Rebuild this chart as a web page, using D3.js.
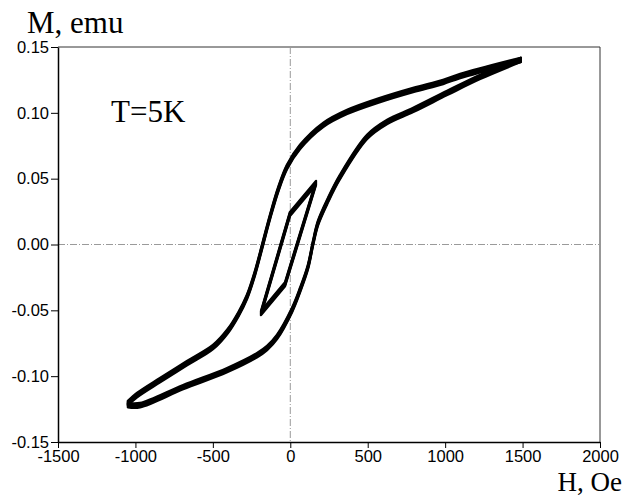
<!DOCTYPE html>
<html>
<head>
<meta charset="utf-8">
<script src="https://cdn.jsdelivr.net/npm/d3@7"></script>
<style>
  html, body { margin: 0; padding: 0; background: #fff; }
  svg { display: block; }
</style>
</head>
<body>
<svg id="chart" width="628" height="497"></svg>
<script>
// Hysteresis loop M(H) at T = 5 K

// Outer loop, descending field branch (from +H max to -H max)
const descH = [1488, 1097, 987, 793, 580, 367, 212, 63, -21, -79, -131, -176, -228, -280, -335, -405, -499, -667, -841, -990, -1048];
const descM = [0.1402, 0.1280, 0.1235, 0.1174, 0.1098, 0.1007, 0.0908, 0.0741, 0.0589, 0.0414, 0.0209, 0.0011, -0.0217, -0.0399, -0.0530, -0.0660, -0.0779, -0.0901, -0.1030, -0.1144, -0.1204];

// Outer loop, ascending field branch (from -H max back to +H max)
const ascH = [-1048, -970, -692, -408, -214, -150, -86, 11, 63, 114, 147, 179, 244, 321, 496, 626, 794, 1013, 1226, 1488];
const ascM = [-0.1220, -0.1220, -0.1083, -0.0954, -0.0840, -0.0786, -0.0703, -0.0498, -0.0346, -0.0171, 0.0011, 0.0163, 0.0338, 0.0513, 0.0817, 0.0931, 0.1022, 0.1151, 0.1273, 0.1402];

// Minor loop
const minorH = [166, -2, -189, -34];
const minorM = [0.0467, 0.0232, -0.0521, -0.0302];

// Axis ticks
const xTicks = [-1500, -1000, -500, 0, 500, 1000, 1500, 2000];
const yTicks = [0.15, 0.10, 0.05, 0.00, -0.05, -0.10, -0.15];

(function draw() {
  const svg = d3.select("#chart");
  const plotLeft = 58, plotRight = 600, plotTop = 47, plotBottom = 442;

  const x = d3.scaleLinear().domain([-1500, 2000]).range([plotLeft, plotRight]);
  const y = d3.scaleLinear().domain([-0.15, 0.15]).range([plotBottom, plotTop]);

  // Frame
  svg.append("line").attr("x1", plotLeft).attr("x2", plotRight).attr("y1", plotTop).attr("y2", plotTop)
    .attr("stroke", "#333").attr("stroke-width", 1);
  svg.append("line").attr("x1", plotRight).attr("x2", plotRight).attr("y1", plotTop).attr("y2", plotBottom)
    .attr("stroke", "#333").attr("stroke-width", 1);

  // Zero reference lines
  const zeroStyle = s => s.attr("stroke", "#9a9a9a").attr("stroke-width", 1).attr("stroke-dasharray", "7,2,1,2");
  zeroStyle(svg.append("line").attr("x1", plotLeft).attr("x2", plotRight).attr("y1", y(0)).attr("y2", y(0)));
  zeroStyle(svg.append("line").attr("x1", x(0)).attr("x2", x(0)).attr("y1", plotTop).attr("y2", plotBottom));

  // Axes
  const xAxis = d3.axisBottom(x).tickValues(xTicks).tickFormat(d => String(d)).tickSizeInner(6).tickSizeOuter(0).tickPadding(2);
  const yAxis = d3.axisLeft(y).tickValues(yTicks).tickFormat(d => d.toFixed(2)).tickSizeInner(7).tickSizeOuter(0).tickPadding(2);

  const gx = svg.append("g").attr("transform", `translate(0,${plotBottom})`).call(xAxis);
  const gy = svg.append("g").attr("transform", `translate(${plotLeft},0)`).call(yAxis);
  [gx, gy].forEach(g => {
    g.selectAll("path.domain").attr("stroke", "#000").attr("stroke-width", 1.5);
    g.selectAll(".tick line").attr("stroke", "#000").attr("stroke-width", 1);
    g.selectAll(".tick text").attr("fill", "#000")
      .style("font-family", "'Liberation Sans', Arial, sans-serif").style("font-size", "16.5px");
  });

  // Curves: drawn with a vertical pen so flat stretches look heavier than steep ones
  const line = d3.line().x(d => x(d[0])).y(d => y(d[1])).curve(d3.curveCatmullRom.alpha(0.5));
  const closedLine = d3.line().x(d => x(d[0])).y(d => y(d[1])).curve(d3.curveLinearClosed);

  const descPts = descH.map((h, i) => [h, descM[i]]);
  const ascPts = ascH.map((h, i) => [h, ascM[i]]);
  const minorPts = minorH.map((h, i) => [h, minorM[i]]);

  const pen = [-2, -1, 0, 1, 2];
  const curves = svg.append("g");
  pen.forEach(dy => {
    const g = curves.append("g").attr("transform", `translate(0,${dy})`);
    g.append("path").attr("d", line(descPts)).attr("fill", "none").attr("stroke", "#000")
      .attr("stroke-width", 2.6).attr("stroke-linejoin", "round").attr("stroke-linecap", "round");
    g.append("path").attr("d", line(ascPts)).attr("fill", "none").attr("stroke", "#000")
      .attr("stroke-width", 2.6).attr("stroke-linejoin", "round").attr("stroke-linecap", "round");
    g.append("path").attr("d", closedLine(minorPts)).attr("fill", "none").attr("stroke", "#000")
      .attr("stroke-width", 2.4).attr("stroke-linejoin", "round");
  });

  // Labels
  const serif = "'Liberation Serif', 'Times New Roman', serif";
  svg.append("text").attr("x", 27).attr("y", 33).text("M, emu")
    .style("font-family", serif).style("font-size", "31px").attr("fill", "#000");
  svg.append("text").attr("x", 622).attr("y", 491).attr("text-anchor", "end").text("H, Oe")
    .style("font-family", serif).style("font-size", "27px").attr("fill", "#000");
  svg.append("text").attr("x", 111).attr("y", 122).text("T=5K")
    .style("font-family", serif).style("font-size", "31px").attr("fill", "#000");
})();
</script>
</body>
</html>
